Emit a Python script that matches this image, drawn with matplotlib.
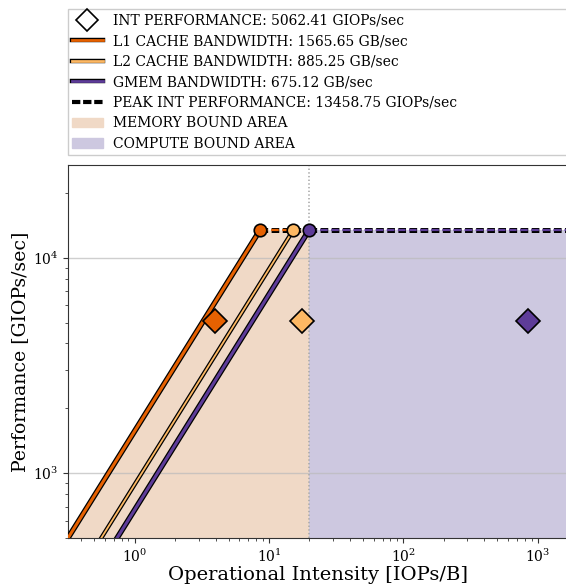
import numpy as np
import matplotlib.pyplot as plt
import matplotlib.patheffects as pe
from matplotlib.lines import Line2D
from matplotlib.patches import Patch

plt.rcParams['font.family'] = 'DejaVu Serif'
plt.rcParams['mathtext.fontset'] = 'dejavuserif'
plt.rcParams['lines.scale_dashes'] = False

# roofline numbers
peak_perf = 13458.75          # GIOPs/sec
achieved_perf = 5062.41       # GIOPs/sec
mem_names = ['L1 CACHE', 'L2 CACHE', 'GMEM']
mem_bw = [1565.65, 885.25, 675.12]   # GB/sec
mem_ai = [3.94, 17.5, 840.0]         # achieved operational intensity per level

colors = ['#e66101', '#fdb863', '#5e3c99']
widths = [2.2, 1.3, 2.2]
mem_fill = '#f0d9c6'
comp_fill = '#cdc8e0'

y_min = 500
y_max = 2 * peak_perf
x_min = y_min / max(mem_bw)
x_max = 1680

fig = plt.figure(figsize=(5.66, 5.85), dpi=100)
ax = fig.add_axes([68 / 566, 47 / 585, 500 / 566, 373 / 585])
ax.set_xscale('log')
ax.set_yscale('log')

ridges = [peak_perf / bw for bw in mem_bw]
ridge_main = max(ridges)

# shaded areas
xs = np.logspace(np.log10(x_min), np.log10(ridge_main), 200)
ax.fill_between(xs, y_min, np.minimum(xs * max(mem_bw), peak_perf), color=mem_fill, lw=0, zorder=1)
ax.fill_between([ridge_main, x_max], y_min, peak_perf, color=comp_fill, lw=0, zorder=1)

for y in [1e3, 1e4]:
    ax.axhline(y, color='#bbbbbb', lw=1, alpha=0.7, zorder=2)
ax.axvline(ridge_main, color='#aaaaaa', lw=1.2, ls=':', zorder=2)

# each flat roof runs to the next ridge point, the last one to the right edge
dash = (0, (5.5, 2.5))
ends = sorted(ridges)[1:] + [x_max]
for bw, ridge, end, c, w in zip(mem_bw, ridges, ends, colors, widths):
    ax.plot([x_min, ridge], [x_min * bw, peak_perf], color=c, lw=w, zorder=4,
            path_effects=[pe.Stroke(linewidth=w + 1.8, foreground='black'), pe.Normal()])
    ax.plot([ridge, end], [peak_perf, peak_perf], color='black', lw=3.6, ls=dash, zorder=4)
    ax.plot([ridge, end], [peak_perf, peak_perf], color=c, lw=1.6, ls=dash, zorder=4)

for ridge, c in zip(ridges, colors):
    ax.plot(ridge, peak_perf, 'o', ms=9, color=c, mec='black', mew=1.2, zorder=6)

for ai, c in zip(mem_ai, colors):
    ax.plot(ai, achieved_perf, 'D', ms=12, color=c, mec='black', mew=1.2, zorder=6)

ax.set_xlim(x_min, x_max)
ax.set_ylim(y_min, y_max)
ax.set_xlabel('Operational Intensity [IOPs/B]', fontsize=14, labelpad=1)
ax.set_ylabel('Performance [GIOPs/sec]', fontsize=13.6, labelpad=3)
ax.tick_params(which='both', direction='out', color='#333333', labelsize=10)
for s in ax.spines.values():
    s.set_color('#333333')

handles = [Line2D([], [], marker='D', ls='none', ms=11, mfc='white', mec='black', mew=1.2)]
for c in colors:
    handles.append(Line2D([], [], color=c, lw=2,
                          path_effects=[pe.Stroke(linewidth=3.2, foreground='black'), pe.Normal()]))
handles.append(Line2D([], [], color='black', lw=3, ls=(0, (6, 2))))
handles.append(Patch(color=mem_fill))
handles.append(Patch(color=comp_fill))
labels = ['INT PERFORMANCE: %.2f GIOPs/sec' % achieved_perf]
labels += ['%s BANDWIDTH: %.2f GB/sec' % (n, bw) for n, bw in zip(mem_names, mem_bw)]
labels += ['PEAK INT PERFORMANCE: %.2f GIOPs/sec' % peak_perf,
           'MEMORY BOUND AREA', 'COMPUTE BOUND AREA']
leg = ax.legend(handles, labels, loc='lower left', bbox_to_anchor=(0, 1.027, 1, 0.2), mode='expand',
                fontsize=10, handlelength=2.2, handletextpad=0.75, borderaxespad=0, framealpha=1,
                fancybox=False, labelspacing=0.47, borderpad=0.3)
leg.get_frame().set_edgecolor('#cccccc')

fig.savefig('out.png', dpi=100)
